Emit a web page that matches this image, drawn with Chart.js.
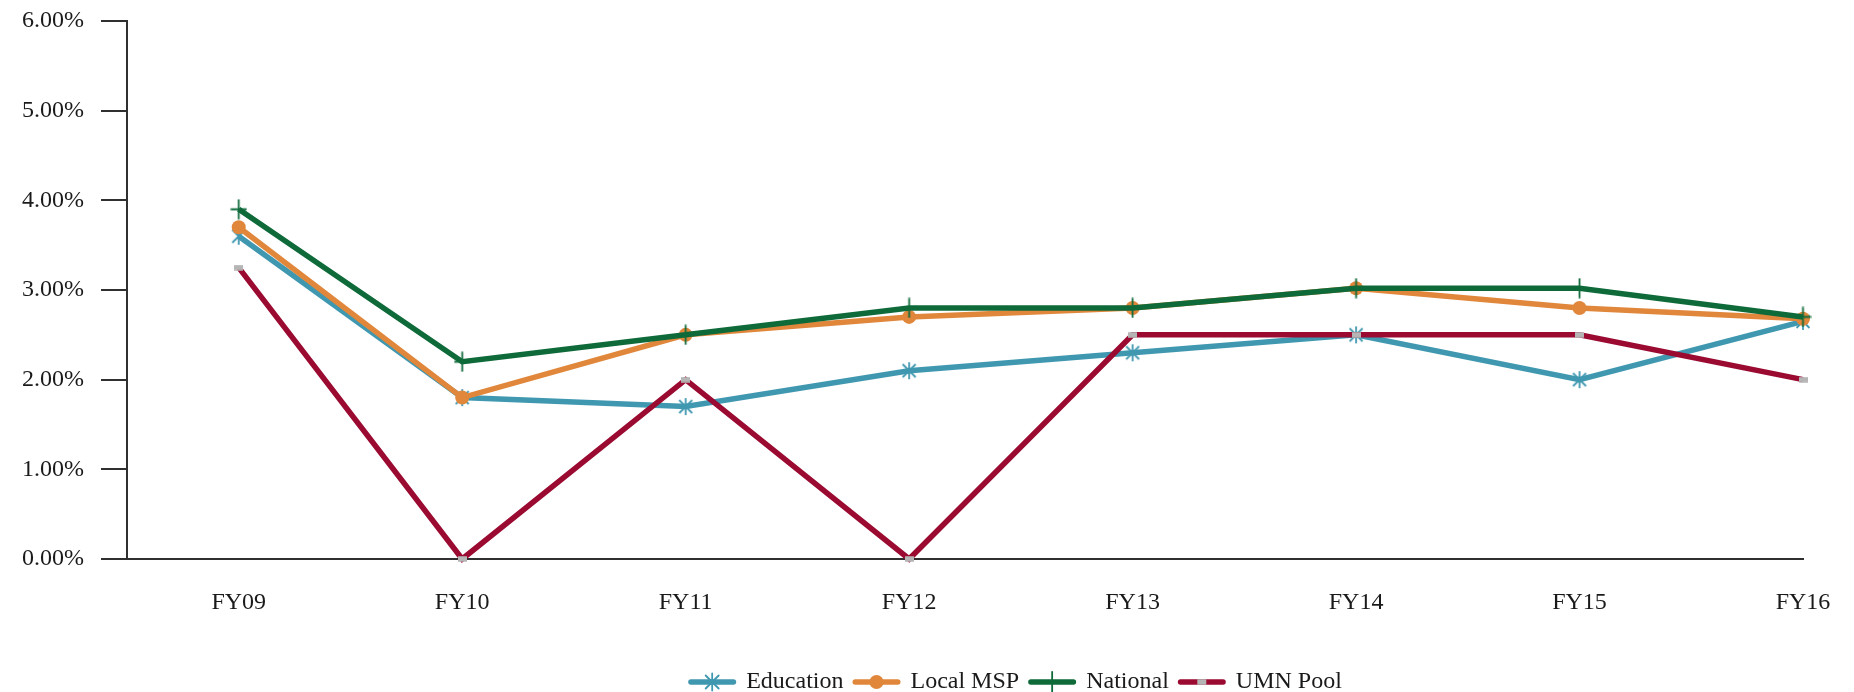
<!DOCTYPE html>
<html><head><meta charset="utf-8">
<script src="https://cdn.jsdelivr.net/npm/chart.js@4"></script>
<style>html,body{margin:0;padding:0;background:#fff}canvas{display:block}</style>
</head><body>
<canvas id="c" width="1854" height="692"></canvas>
<script>
const categories = ['FY09','FY10','FY11','FY12','FY13','FY14','FY15','FY16'];
const education = [3.6, 1.8, 1.7, 2.1, 2.3, 2.5, 2.0, 2.65];
const localMSP  = [3.7, 1.8, 2.5, 2.7, 2.8, 3.02, 2.8, 2.68];
const national  = [3.9, 2.2, 2.5, 2.8, 2.8, 3.02, 3.02, 2.7];
const umnPool   = [3.25, 0, 2.0, 0, 2.5, 2.5, 2.5, 2.0];
const yTicks = [0, 1, 2, 3, 4, 5, 6];
const seriesNames = ['Education', 'Local MSP', 'National', 'UMN Pool'];

const COL = {edu:'#4098B0', msp:'#E0873B', nat:'#0F6A3A', umn:'#9A0A31', gray:'#B5B5B5', axis:'#303030', text:'#1a1a1a'};
const FONT = {family:'"Liberation Serif", "DejaVu Serif", serif', size:24};
const LW = 5.5;

function mk(w, h, draw){const c=document.createElement('canvas');c.width=w;c.height=h;draw(c.getContext('2d'),w,h);return c;}
function drawStar(g,x,y){g.save();g.strokeStyle=COL.edu;g.lineWidth=1.8;g.beginPath();
  g.moveTo(x,y-8.5);g.lineTo(x,y+8.5);g.moveTo(x-6.5,y-6.5);g.lineTo(x+6.5,y+6.5);g.moveTo(x+6.5,y-6.5);g.lineTo(x-6.5,y+6.5);g.stroke();g.restore();}
function drawPlus(g,x,y){g.save();g.strokeStyle=COL.nat;g.lineWidth=1.8;g.beginPath();
  g.moveTo(x,y-10);g.lineTo(x,y+10);g.moveTo(x-8,y);g.lineTo(x+8,y);g.stroke();g.restore();}
function drawRect(g,x,y){g.save();g.fillStyle=COL.gray;g.fillRect(x-4.5,y-2.75,9,5.5);g.restore();}
function drawDot(g,x,y){g.save();g.fillStyle=COL.msp;g.beginPath();g.arc(x,y,7,0,Math.PI*2);g.fill();g.restore();}

const starMk = mk(18,19,(g)=>drawStar(g,9,9.5));
const plusMk = mk(17,21,(g)=>drawPlus(g,8.5,10.5));
const rectMk = mk(9,6,(g)=>drawRect(g,4.5,3));

function pts(arr){return arr.map((v,i)=>({x:i,y:v}));}

const datasets = [
  {label:seriesNames[0], data:pts(education), borderColor:COL.edu, pointStyle:starMk, pointRadius:5, order:4, legendDraw:drawStar},
  {label:seriesNames[1], data:pts(localMSP), borderColor:COL.msp, pointStyle:'circle', pointRadius:7, pointBackgroundColor:COL.msp, pointBorderWidth:0, order:3, legendDraw:drawDot},
  {label:seriesNames[2], data:pts(national), borderColor:COL.nat, pointStyle:plusMk, pointRadius:5, order:2, legendDraw:drawPlus},
  {label:seriesNames[3], data:pts(umnPool), borderColor:COL.umn, pointStyle:rectMk, pointRadius:5, order:1, legendDraw:drawRect}
].map(d=>Object.assign({borderWidth:LW, fill:false, tension:0, clip:false, pointHoverRadius:d.pointRadius}, d));

const legendPlugin = {
  id:'customLegend',
  afterDraw(chart){
    const ctx = chart.ctx;
    ctx.save();
    ctx.font = FONT.size + 'px ' + FONT.family;
    const sw = 48, g1 = 10, g2 = 9, cy = 682, cx = 1015;
    const items = chart.data.datasets.map(ds=>({label:ds.label, color:ds.borderColor, draw:ds.legendDraw, tw:ctx.measureText(ds.label).width}));
    let total = items.reduce((s,it)=>s+sw+g1+it.tw,0) + g2*(items.length-1);
    let x = cx - total/2;
    for (const it of items){
      ctx.strokeStyle = it.color; ctx.lineWidth = LW; ctx.lineCap='round';
      ctx.beginPath(); ctx.moveTo(x+2.75, cy); ctx.lineTo(x+sw-2.75, cy); ctx.stroke();
      it.draw(ctx, x+sw/2, cy);
      ctx.fillStyle = COL.text; ctx.textAlign='left'; ctx.textBaseline='middle';
      ctx.fillText(it.label, x+sw+g1, cy);
      x += sw+g1+it.tw+g2;
    }
    ctx.restore();
  }
};

new Chart(document.getElementById('c'), {
  type:'line',
  data:{datasets},
  plugins:[legendPlugin],
  options:{
    responsive:false, animation:false, events:[], devicePixelRatio:1,
    layout:{padding:{left:0, right:51, top:21, bottom:0}},
    plugins:{legend:{display:false}, tooltip:{enabled:false}},
    scales:{
      x:{type:'linear', min:-0.5, max:7,
        afterBuildTicks:s=>{s.ticks = categories.map((_,i)=>({value:i}));},
        ticks:{callback:v=>categories[v] ?? '', padding:29, font:FONT, color:COL.text, autoSkip:false, maxRotation:0},
        grid:{display:false, drawTicks:false},
        border:{display:true, color:COL.axis, width:2},
        afterFit:s=>{s.height = 133; s.paddingLeft = 0; s.paddingRight = 0;}
      },
      y:{min:0, max:6,
        afterBuildTicks:s=>{s.ticks = yTicks.map(v=>({value:v}));},
        ticks:{callback:v=>v.toFixed(2)+'%', padding:17, font:FONT, color:COL.text},
        grid:{drawOnChartArea:false, drawTicks:true, tickLength:26, color:COL.axis, lineWidth:2},
        border:{display:true, color:COL.axis, width:2},
        afterFit:s=>{s.width = 127; s.paddingTop = 0; s.paddingBottom = 0;}
      }
    }
  }
});
</script>
</body></html>
